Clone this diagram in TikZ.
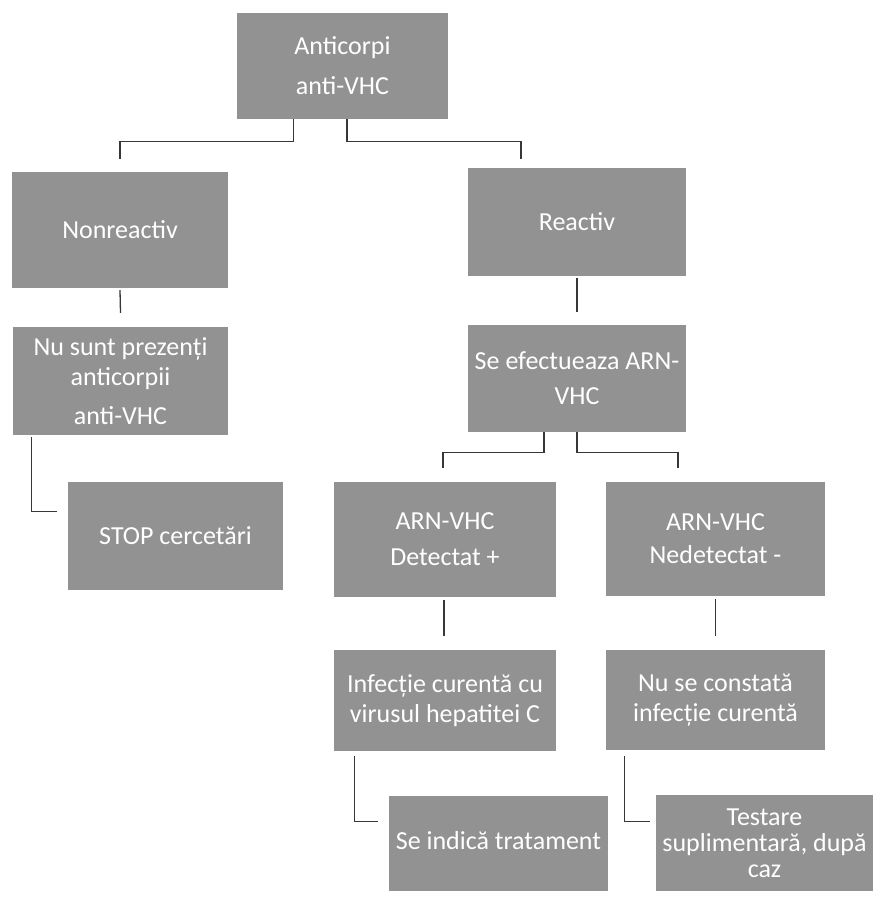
\documentclass[tikz,border=0pt]{standalone}
\usepackage{fontspec}
\setmainfont{Carlito}
\usetikzlibrary{positioning}
\usetikzlibrary{calc}
\definecolor{boxgray}{RGB}{146,146,146}
\definecolor{linegray}{RGB}{55,55,55}
\tikzset{
  box/.style={fill=boxgray, text=white, inner sep=0pt, align=center,
    minimum width=217pt, minimum height=108pt, font=\fontsize{26}{28}\selectfont},
  link/.style={draw=linegray, line width=1.3pt}
}

\begin{document}
\begin{tikzpicture}[x=1pt, y=-1pt]
      \useasboundingbox (0,0) rectangle (873,897);
      \node[box, minimum width=211pt, minimum height=106pt] (root) at (342.5,66) {Anticorpi\\[12pt]anti-VHC};
      \node[box, minimum width=216pt, minimum height=116pt] (nonreact) at (120,230) {Nonreactiv};
      \node[box, minimum width=218pt] (react) at (577,222) {Reactiv};
      \node[box, minimum width=215pt] (absent) at (120.5,381) {Nu sunt prezenți\\[2pt]anticorpii\\[11pt]anti-VHC};
      \node[box, minimum width=218pt, minimum height=107pt] (rna) at (577,378.5) {Se efectueaza ARN-\\[7pt]VHC};
      \node[box, minimum width=215pt] (stop) at (175.5,536) {STOP cercetări};
      \node[box, minimum width=222pt, minimum height=115pt] (detect) at (445,539.5) {ARN-VHC\\[8pt]Detectat +};
      \node[box, minimum width=219pt, minimum height=114pt] (undetect) at (715.5,539) {ARN-VHC\\[5pt]Nedetectat -};
      \node[box, minimum width=222pt, minimum height=101pt] (infect) at (445,700.5) {Infecție curentă cu\\[2pt]virusul hepatitei C};
      \node[box, minimum width=219pt, minimum height=100pt] (noinfect) at (715.5,700) {Nu se constată\\[2pt]infecție curentă};
      \node[box, minimum width=219pt, minimum height=95pt] (treat) at (498.5,843.5) {\raisebox{6pt}{Se indică tratament}};
      \node[box, minimum width=217pt, minimum height=96pt] (extra) at (764.5,843) {Testare\\[-2pt]suplimentară, după\\[-2pt]caz};

      \draw[link] ([xshift=-49pt]root.south) -- ++(0,22) -| ([yshift=13pt]nonreact.north);
      \draw[link] ([xshift=4.5pt]root.south) -- ++(0,22) -| ([xshift=-56pt,yshift=9pt]react.north);
      \draw[link] ([yshift=-2pt]nonreact.south) -- ([yshift=14pt]absent.north);
      \draw[link] ([yshift=-2pt]react.south) -- ([yshift=13pt]rna.north);
      \draw[link] ([xshift=19pt,yshift=-2pt]absent.south west) |- ([xshift=-11pt,yshift=-30pt]stop.north west);
      \draw[link] ([xshift=-33pt]rna.south) -- ++(0,20) -| ([xshift=-2pt,yshift=14pt]detect.north);
      \draw[link] (rna.south) -- ++(0,20) -| ([xshift=-37.5pt,yshift=14pt]undetect.north);
      \draw[link] ([xshift=-1pt,yshift=-3pt]detect.south) -- ([xshift=-1pt,yshift=14pt]infect.north);
      \draw[link] ([yshift=-3pt]undetect.south) -- ([yshift=14pt]noinfect.north);
      \draw[link] ([xshift=21pt,yshift=-5pt]infect.south west) |- ([xshift=-11pt,yshift=-26pt]treat.north west);
      \draw[link] ([xshift=19pt,yshift=-6pt]noinfect.south west) |- ([xshift=-6pt,yshift=-27pt]extra.north west);
    \end{tikzpicture}
\end{document}
